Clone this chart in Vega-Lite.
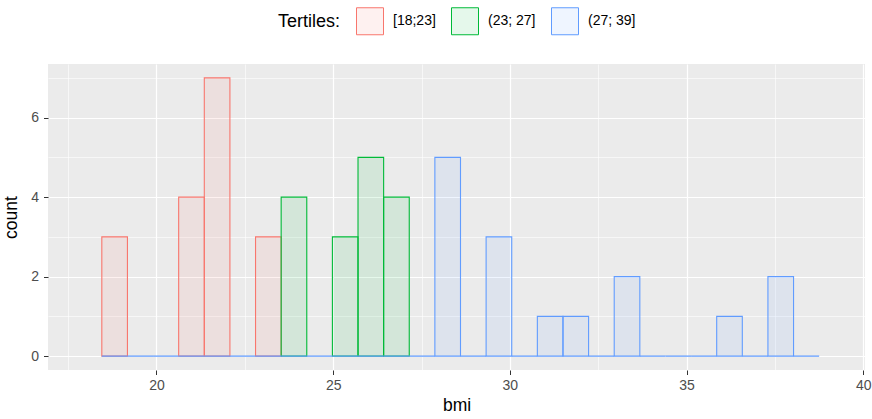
{
  "$schema": "https://vega.github.io/schema/vega-lite/v6.json",
  "width": 817,
  "height": 306,
  "autosize": {"type": "none"},
  "padding": {"left": 48, "top": 64, "right": 7, "bottom": 49},
  "background": "white",
  "config": {
    "view": {"fill": "#EBEBEB", "stroke": null},
    "font": "Liberation Sans"
  },
  "data": {
    "values": [
      {"bin_start": 18.453, "bin_end": 19.178, "count": 3, "tertile": "[18;23]"},
      {"bin_start": 20.628, "bin_end": 21.353, "count": 4, "tertile": "[18;23]"},
      {"bin_start": 21.353, "bin_end": 22.078, "count": 7, "tertile": "[18;23]"},
      {"bin_start": 22.803, "bin_end": 23.528, "count": 3, "tertile": "[18;23]"},
      {"bin_start": 23.528, "bin_end": 24.253, "count": 4, "tertile": "(23; 27]"},
      {"bin_start": 24.978, "bin_end": 25.703, "count": 3, "tertile": "(23; 27]"},
      {"bin_start": 25.703, "bin_end": 26.428, "count": 5, "tertile": "(23; 27]"},
      {"bin_start": 26.428, "bin_end": 27.153, "count": 4, "tertile": "(23; 27]"},
      {"bin_start": 18.453, "bin_end": 19.178, "count": 0, "tertile": "(27; 39]"},
      {"bin_start": 19.178, "bin_end": 19.903, "count": 0, "tertile": "(27; 39]"},
      {"bin_start": 19.903, "bin_end": 20.628, "count": 0, "tertile": "(27; 39]"},
      {"bin_start": 20.628, "bin_end": 21.353, "count": 0, "tertile": "(27; 39]"},
      {"bin_start": 21.353, "bin_end": 22.078, "count": 0, "tertile": "(27; 39]"},
      {"bin_start": 22.078, "bin_end": 22.803, "count": 0, "tertile": "(27; 39]"},
      {"bin_start": 22.803, "bin_end": 23.528, "count": 0, "tertile": "(27; 39]"},
      {"bin_start": 23.528, "bin_end": 24.253, "count": 0, "tertile": "(27; 39]"},
      {"bin_start": 24.253, "bin_end": 24.978, "count": 0, "tertile": "(27; 39]"},
      {"bin_start": 24.978, "bin_end": 25.703, "count": 0, "tertile": "(27; 39]"},
      {"bin_start": 25.703, "bin_end": 26.428, "count": 0, "tertile": "(27; 39]"},
      {"bin_start": 26.428, "bin_end": 27.153, "count": 0, "tertile": "(27; 39]"},
      {"bin_start": 27.153, "bin_end": 27.878, "count": 0, "tertile": "(27; 39]"},
      {"bin_start": 27.878, "bin_end": 28.603, "count": 5, "tertile": "(27; 39]"},
      {"bin_start": 28.603, "bin_end": 29.328, "count": 0, "tertile": "(27; 39]"},
      {"bin_start": 29.328, "bin_end": 30.053, "count": 3, "tertile": "(27; 39]"},
      {"bin_start": 30.053, "bin_end": 30.778, "count": 0, "tertile": "(27; 39]"},
      {"bin_start": 30.778, "bin_end": 31.503, "count": 1, "tertile": "(27; 39]"},
      {"bin_start": 31.503, "bin_end": 32.228, "count": 1, "tertile": "(27; 39]"},
      {"bin_start": 32.228, "bin_end": 32.953, "count": 0, "tertile": "(27; 39]"},
      {"bin_start": 32.953, "bin_end": 33.678, "count": 2, "tertile": "(27; 39]"},
      {"bin_start": 33.678, "bin_end": 34.403, "count": 0, "tertile": "(27; 39]"},
      {"bin_start": 34.403, "bin_end": 35.128, "count": 0, "tertile": "(27; 39]"},
      {"bin_start": 35.128, "bin_end": 35.853, "count": 0, "tertile": "(27; 39]"},
      {"bin_start": 35.853, "bin_end": 36.578, "count": 1, "tertile": "(27; 39]"},
      {"bin_start": 36.578, "bin_end": 37.303, "count": 0, "tertile": "(27; 39]"},
      {"bin_start": 37.303, "bin_end": 38.028, "count": 2, "tertile": "(27; 39]"},
      {"bin_start": 38.028, "bin_end": 38.753, "count": 0, "tertile": "(27; 39]"}
    ]
  },
  "mark": {"type": "bar", "strokeWidth": 1.1},
  "encoding": {
    "x": {
      "field": "bin_start",
      "type": "quantitative",
      "title": "bmi",
      "scale": {"domain": [16.93, 40.05], "nice": false, "zero": false},
      "axis": {
        "values": [17.5, 20, 22.5, 25, 27.5, 30, 32.5, 35, 37.5, 40],
        "domain": false,
        "grid": true,
        "gridColor": "white",
        "gridWidth": {"condition": {"test": "datum.value % 5 === 0", "value": 1.2}, "value": 0.6},
        "ticks": true,
        "tickSize": 4.5,
        "tickWidth": 1,
        "tickColor": "#333333",
        "tickOpacity": {"condition": {"test": "datum.value % 5 === 0", "value": 1}, "value": 0},
        "labelExpr": "datum.value % 5 === 0 ? datum.label : ''",
        "labelColor": "#4D4D4D",
        "labelFontSize": 14,
        "labelPadding": 4,
        "labelFlush": false,
        "labelOverlap": false,
        "titleFontSize": 17.5,
        "titleFontWeight": "normal",
        "titleColor": "black",
        "titlePadding": 4
      }
    },
    "x2": {"field": "bin_end"},
    "y": {
      "field": "count",
      "type": "quantitative",
      "title": "count",
      "stack": null,
      "scale": {"domain": [-0.35, 7.35], "nice": false, "zero": false},
      "axis": {
        "values": [0, 1, 2, 3, 4, 5, 6, 7],
        "domain": false,
        "grid": true,
        "gridColor": "white",
        "gridWidth": {"condition": {"test": "datum.value % 2 === 0", "value": 1.2}, "value": 0.6},
        "ticks": true,
        "tickSize": 4.5,
        "tickWidth": 1,
        "tickColor": "#333333",
        "tickOpacity": {"condition": {"test": "datum.value % 2 === 0", "value": 1}, "value": 0},
        "labelExpr": "datum.value % 2 === 0 ? datum.label : ''",
        "labelColor": "#4D4D4D",
        "labelFontSize": 14,
        "labelPadding": 5,
        "labelOverlap": false,
        "titleFontSize": 17.5,
        "titleFontWeight": "normal",
        "titleColor": "black",
        "titlePadding": 10
      }
    },
    "y2": {"datum": 0},
    "fill": {
      "field": "tertile",
      "type": "nominal",
      "scale": {
        "domain": ["[18;23]", "(23; 27]", "(27; 39]"],
        "range": ["rgba(248,118,109,0.1)", "rgba(0,186,56,0.1)", "rgba(97,156,255,0.1)"]
      },
      "legend": {
        "title": "Tertiles:",
        "orient": "none",
        "legendX": 230,
        "legendY": -57,
        "direction": "horizontal",
        "titleOrient": "left",
        "titleFontSize": 18,
        "titleFontWeight": "normal",
        "titleColor": "black",
        "titlePadding": 15,
        "labelFontSize": 14,
        "labelColor": "black",
        "labelOffset": 9,
        "columnPadding": 13,
        "symbolType": "square",
        "symbolSize": 729,
        "symbolStrokeWidth": 1
      }
    },
    "stroke": {
      "field": "tertile",
      "type": "nominal",
      "scale": {
        "domain": ["[18;23]", "(23; 27]", "(27; 39]"],
        "range": ["#F8766D", "#00BA38", "#619CFF"]
      },
      "legend": {
        "title": "Tertiles:",
        "orient": "none",
        "legendX": 230,
        "legendY": -57,
        "direction": "horizontal",
        "titleOrient": "left",
        "titleFontSize": 18,
        "titleFontWeight": "normal",
        "titleColor": "black",
        "titlePadding": 15,
        "labelFontSize": 14,
        "labelColor": "black",
        "labelOffset": 9,
        "columnPadding": 13,
        "symbolType": "square",
        "symbolSize": 729,
        "symbolStrokeWidth": 1
      }
    }
  }
}
